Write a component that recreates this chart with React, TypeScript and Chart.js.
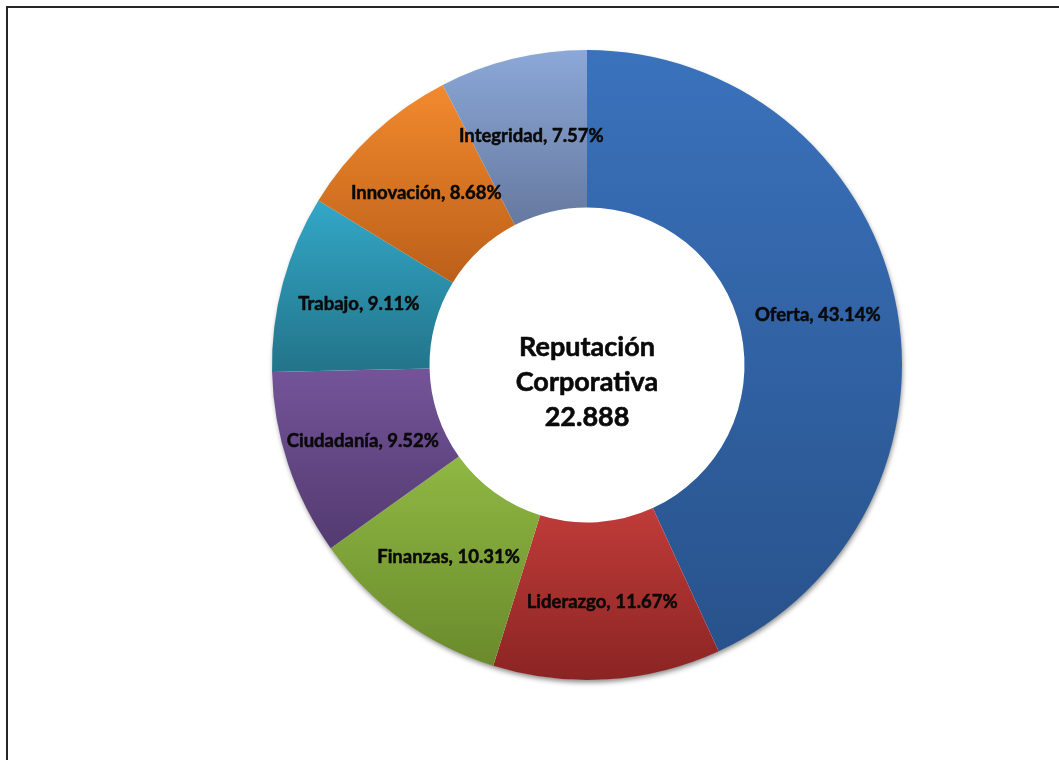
import React, { useEffect, useRef } from 'react';
import { Chart, registerables } from 'chart.js';

Chart.register(...registerables);

const categories = ['Oferta', 'Liderazgo', 'Finanzas', 'Ciudadanía', 'Trabajo', 'Innovación', 'Integridad'];
const values = [43.14, 11.67, 10.31, 9.52, 9.11, 8.68, 7.57];
const topColors = ['#3a72bc', '#c03c39', '#8fb843', '#745499', '#33a7c7', '#f28a2e', '#8ba8d8'];
const bottomColors = ['#28528b', '#8a2423', '#6a8a2c', '#533a70', '#227489', '#bb5f19', '#66799f'];
const centerLines = ['Reputación', 'Corporativa', '22.888'];

const CUTOUT = 0.5;

function sliceGradient(ctx: any) {
  const i = ctx.dataIndex ?? 0;
  const chart = ctx.chart;
  const area = chart.chartArea;
  if (!area) return topColors[i];
  const cx = (area.left + area.right) / 2;
  const cy = (area.top + area.bottom) / 2;
  const R = Math.min(area.width, area.height) / 2;
  const r = R * CUTOUT;
  const total = values.reduce((a, b) => a + b, 0);
  let start = -Math.PI / 2;
  for (let k = 0; k < i; k++) start += (values[k] / total) * Math.PI * 2;
  const end = start + (values[i] / total) * Math.PI * 2;
  let minY = Infinity;
  let maxY = -Infinity;
  for (let s = 0; s <= 80; s++) {
    const a = start + ((end - start) * s) / 80;
    for (const rad of [r, R]) {
      const y = cy + rad * Math.sin(a);
      if (y < minY) minY = y;
      if (y > maxY) maxY = y;
    }
  }
  const g = chart.ctx.createLinearGradient(0, minY, 0, maxY);
  g.addColorStop(0, topColors[i]);
  g.addColorStop(1, bottomColors[i]);
  return g;
}

const shadowPlugin = {
  id: 'ringShadow',
  beforeDatasetsDraw(chart: any) {
    const meta = chart.getDatasetMeta(0);
    const arc = meta.data[0];
    if (!arc) return;
    const c = chart.ctx;
    c.save();
    c.shadowColor = 'rgba(0,0,0,0.45)';
    c.shadowBlur = 5;
    c.shadowOffsetX = 1;
    c.shadowOffsetY = 3;
    c.fillStyle = '#ffffff';
    c.beginPath();
    c.arc(arc.x, arc.y, arc.outerRadius - 0.5, 0, Math.PI * 2);
    c.fill();
    c.restore();
  },
};

const labelPlugin = {
  id: 'sliceLabels',
  afterDatasetsDraw(chart: any) {
    const meta = chart.getDatasetMeta(0);
    const c = chart.ctx;
    c.save();
    c.fillStyle = '#0a0a0a';
    c.strokeStyle = '#0a0a0a';
    c.lineJoin = 'round';
    c.textAlign = 'center';
    c.textBaseline = 'middle';
    c.font = 'bold 18.5px Lato, "Open Sans", sans-serif';
    c.lineWidth = 0.5;
    meta.data.forEach((arc: any, i: number) => {
      const mid = (arc.startAngle + arc.endAngle) / 2;
      const rr = (arc.innerRadius + arc.outerRadius) / 2;
      const x = arc.x + rr * Math.cos(mid);
      const y = arc.y + rr * Math.sin(mid) + 1;
      const t = `${categories[i]}, ${values[i].toFixed(2)}%`;
      c.fillText(t, x, y);
      c.strokeText(t, x, y);
    });
    const first = meta.data[0];
    if (first) {
      c.font = 'bold 27px Lato, "Open Sans", sans-serif';
      c.lineWidth = 0.6;
      const lh = 35;
      centerLines.forEach((t, k) => {
        const y = first.y + 17 + (k - 1) * lh;
        c.fillText(t, first.x, y);
        c.strokeText(t, first.x, y);
      });
    }
    c.restore();
  },
};

export default function App() {
  const ref = useRef<HTMLCanvasElement | null>(null);
  useEffect(() => {
    if (!ref.current) return;
    const chart = new Chart(ref.current, {
      type: 'doughnut',
      data: {
        labels: categories,
        datasets: [
          {
            data: values,
            backgroundColor: sliceGradient as any,
            borderWidth: 0,
            hoverOffset: 0,
          },
        ],
      },
      options: {
        responsive: false,
        animation: false,
        cutout: `${CUTOUT * 100}%`,
        events: [],
        layout: { padding: { left: 272, right: 157, top: 50, bottom: 80 } },
        plugins: {
          legend: { display: false },
          tooltip: { enabled: false },
        },
      },
      plugins: [shadowPlugin, labelPlugin],
    });
    return () => chart.destroy();
  }, []);
  return (
    <div style={{ position: 'fixed', left: 0, top: 0, width: 1059, height: 760, background: '#fff' }}>
      <canvas ref={ref} width={1059} height={760} style={{ display: 'block', width: 1059, height: 760 }} />
      <div
        style={{
          position: 'absolute',
          left: 6,
          top: 6,
          width: 1053,
          height: 754,
          borderTop: '2px solid #262626',
          borderLeft: '2px solid #262626',
          boxSizing: 'border-box',
          pointerEvents: 'none',
        }}
      />
    </div>
  );
}
